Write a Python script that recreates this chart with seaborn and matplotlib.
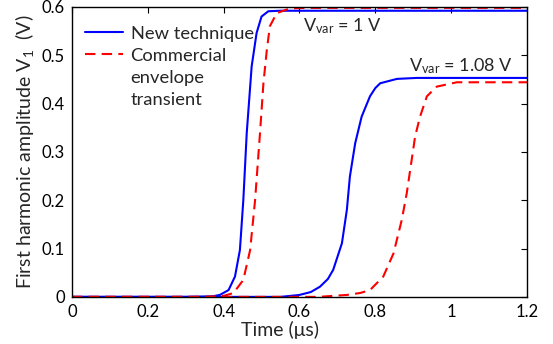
import matplotlib
matplotlib.use("Agg")
import matplotlib.pyplot as plt
import seaborn as sns
import pandas as pd
from matplotlib.lines import Line2D

# Data (time in µs, amplitude in V)
new_t_1 = [0.0, 0.30, 0.37, 0.39, 0.413, 0.43, 0.443, 0.452, 0.461, 0.474, 0.487, 0.50, 0.518, 0.55, 1.2]
new_v_1 = [0.0, 0.0, 0.001, 0.004, 0.014, 0.042, 0.097, 0.20, 0.339, 0.477, 0.546, 0.58, 0.591, 0.592, 0.592]
com_t_1 = [0.0, 0.35, 0.40, 0.426, 0.452, 0.47, 0.483, 0.496, 0.505, 0.514, 0.522, 0.54, 0.575, 0.62, 1.2]
com_v_1 = [0.0, 0.0, 0.002, 0.008, 0.035, 0.097, 0.20, 0.339, 0.442, 0.511, 0.56, 0.587, 0.597, 0.598, 0.598]
new_t_2 = [0.0, 0.55, 0.60, 0.63, 0.654, 0.675, 0.689, 0.712, 0.725, 0.733, 0.747, 0.764, 0.786, 0.80, 0.813, 0.857, 0.909, 1.2]
new_v_2 = [0.0, 0.0, 0.004, 0.010, 0.021, 0.037, 0.056, 0.111, 0.18, 0.249, 0.318, 0.373, 0.415, 0.432, 0.442, 0.451, 0.453, 0.453]
com_t_2 = [0.0, 0.65, 0.725, 0.76, 0.786, 0.821, 0.848, 0.87, 0.883, 0.896, 0.905, 0.918, 0.936, 0.962, 1.015, 1.2]
com_v_2 = [0.0, 0.0, 0.004, 0.008, 0.014, 0.042, 0.09, 0.16, 0.215, 0.284, 0.332, 0.373, 0.415, 0.435, 0.444, 0.444]

legend_rows = ["New technique", "Commercial", "envelope", "transient"]
x_ticks = [0, 0.2, 0.4, 0.6, 0.8, 1, 1.2]
x_ticklabels = ["0", "0.2", "0.4", "0.6", "0.8", "1", "1.2"]
y_ticks = [0, 0.1, 0.2, 0.3, 0.4, 0.5, 0.6]
y_ticklabels = ["0", "0.1", "0.2", "0.3", "0.4", "0.5", "0.6"]

sns.set_style("white")
plt.rcParams["font.family"] = ["Lato", "DejaVu Sans"]
plt.rcParams["mathtext.fontset"] = "custom"
plt.rcParams["mathtext.rm"] = "Lato"
plt.rcParams["mathtext.it"] = "Lato"

fig = plt.figure(figsize=(5.53, 3.44), dpi=100)
ax = fig.add_axes([0.130, 0.137, 0.823, 0.843])

curves = [
    (new_t_1, new_v_1, "blue", "-"),
    (com_t_1, com_v_1, "red", "--"),
    (new_t_2, new_v_2, "blue", "-"),
    (com_t_2, com_v_2, "red", "--"),
]
for t, v, c, ls in curves:
    df = pd.DataFrame({"t": t, "v": v})
    sns.lineplot(data=df, x="t", y="v", ax=ax, color=c, linewidth=1.5, sort=False)
    l = ax.lines[-1]
    if ls == "--":
        l.set_dashes((5, 3))

ax.set_xlim(0, 1.2)
ax.set_ylim(0, 0.6)
ax.set_xticks(x_ticks)
ax.set_xticklabels(x_ticklabels)
ax.set_yticks(y_ticks)
ax.set_yticklabels(y_ticklabels)
ax.tick_params(direction="in", top=True, right=True, length=4, width=0.8,
               labelsize=12, colors="black", pad=5)
for s in ax.spines.values():
    s.set_color("black")
    s.set_linewidth(1.0)

ax.set_xlabel("Time (\u03bcs)", labelpad=1, x=0.457)
ax.xaxis.label.set_size(14)
ax.set_ylabel("First harmonic amplitude V$_1$  (V)", labelpad=4)
ax.yaxis.label.set_size(14)

ax.text(0.61, 0.549, "V$_{\\mathrm{var}}$ = 1 V", fontsize=13)
ax.text(0.89, 0.466, "V$_{\\mathrm{var}}$ = 1.08 V", fontsize=13)

handles = [Line2D([], [], color="blue", lw=1.5, ls="-"),
           Line2D([], [], color="red", lw=1.5, dashes=(5, 3)),
           Line2D([], [], color="none"),
           Line2D([], [], color="none")]
leg = ax.legend(handles, legend_rows, loc="upper left", frameon=False,
                fontsize=13.2, handlelength=2.1, labelspacing=0.33,
                borderaxespad=0.0, bbox_to_anchor=(0.012, 0.96), handletextpad=0.4)

fig.savefig("out.png", dpi=100)
